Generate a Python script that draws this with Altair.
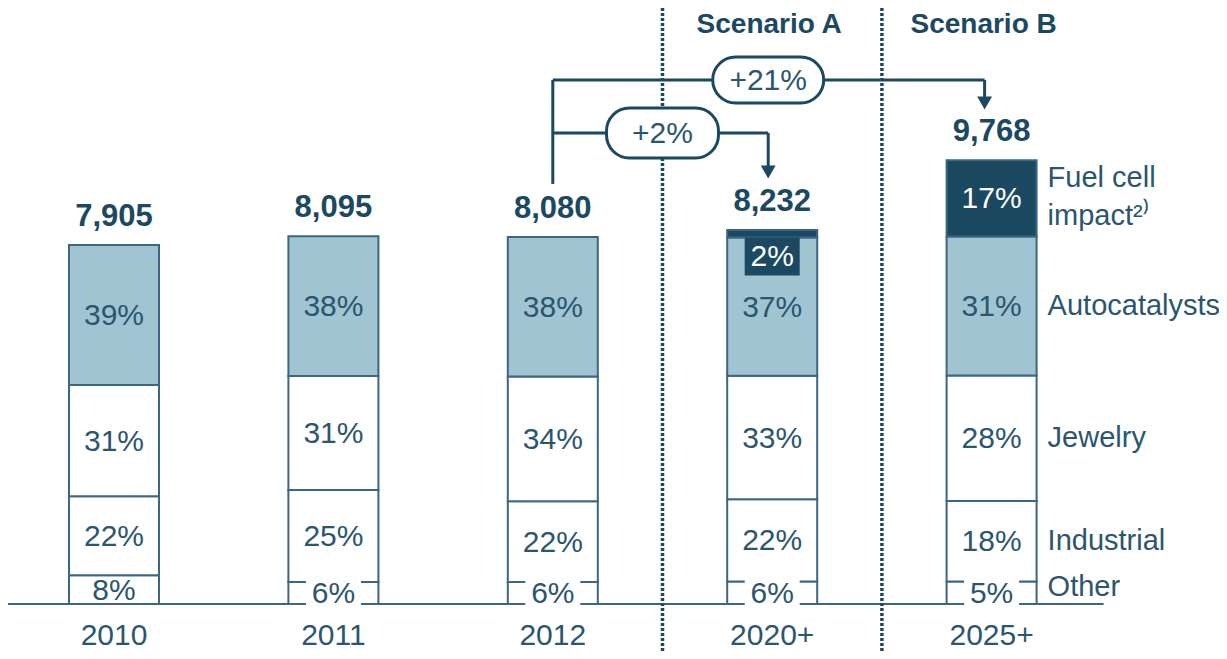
import altair as alt
import pandas as pd

# ---------------- data ----------------
categories = ["2010", "2011", "2012", "2020+", "2025+"]
totals = [7905, 8095, 8080, 8232, 9768]
total_labels = ["7,905", "8,095", "8,080", "8,232", "9,768"]
segments = ["Other", "Industrial", "Jewelry", "Autocatalysts", "Fuel cell"]
other = [8, 6, 6, 6, 5]
industrial = [22, 25, 22, 22, 18]
jewelry = [31, 31, 34, 33, 28]
autocatalysts = [39, 38, 38, 37, 31]
fuel_cell = [0, 0, 0, 2, 17]
right_labels = ["Other", "Industrial", "Jewelry", "Autocatalysts", ["Fuel cell", "impact\u00b2\u207e"]]
scenarios = ["Scenario A", "Scenario B"]
growth_labels = ["+2%", "+21%"]

# ---------------- styling ----------------
NAVY = "#1b4961"
LIGHT = "#a0c4d2"
OUTLINE = "#3c6681"
TEXT = "#2a5670"
FONT = "Liberation Sans"

W, H = 1211, 643
KY = 0.04543          # px per unit on the y scale
KX = 219.4            # px per category step
BASE_PX = 596         # baseline position in view
X0_PX = 106           # centre of first bar in view

def uy(px):
    return px / KY

def ux(px):
    return px / KX

y_dom = [-(H - BASE_PX) / KY, BASE_PX / KY]
x_dom = [-X0_PX / KX, (W - X0_PX) / KX]
xs = alt.Scale(domain=x_dom, nice=False, zero=False)
ys = alt.Scale(domain=y_dom, nice=False, zero=False)

HALF = ux(45)

# ---------------- segments ----------------
rows = []
series = [other, industrial, jewelry, autocatalysts, fuel_cell]
for i, cat in enumerate(categories):
    pcts = [s[i] for s in series]
    tot_pct = sum(pcts)
    cum = 0
    for seg, p in zip(segments, pcts):
        if p == 0:
            continue
        y0 = totals[i] * cum / tot_pct
        y1 = totals[i] * (cum + p) / tot_pct
        cum += p
        rows.append(dict(cat=cat, idx=i, seg=seg, pct=p, label=f"{p}%",
                         x=i - HALF, x2=i + HALF, y=y0, y2=y1, mid=(y0 + y1) / 2))
seg_df = pd.DataFrame(rows)

# label placement derived from the segments
lab_rows, cover_rows, box_rows = [], [], []
for r in rows:
    thin = (r["y2"] - r["y"]) * KY < 20
    if r["seg"] == "Fuel cell" and thin:
        box_rows.append(dict(x=r["idx"] - ux(27.5), x2=r["idx"] + ux(27.5),
                             y=r["y"], y2=r["y"] - uy(38)))
        lab_rows.append(dict(x=r["idx"], y=r["y"] - uy(19), label=r["label"], white=True))
    else:
        if r["seg"] == "Other" and r["pct"] < 7:
            cover_rows.append(dict(x=r["idx"] - ux(27.5), x2=r["idx"] + ux(27.5),
                                   y=r["mid"] - uy(14), y2=r["mid"] + uy(14)))
        lab_rows.append(dict(x=r["idx"], y=r["mid"], label=r["label"],
                             white=(r["seg"] == "Fuel cell")))
lab_df = pd.DataFrame(lab_rows)
cover_df = pd.DataFrame(cover_rows)
box_df = pd.DataFrame(box_rows)

tot_df = pd.DataFrame(dict(x=list(range(len(categories))), y=totals, label=total_labels))
cat_df = pd.DataFrame(dict(x=list(range(len(categories))), y=[-uy(32)] * len(categories),
                           label=categories))

# right-hand legend labels, aligned with the last bar's segments
last = [r for r in rows if r["idx"] == len(categories) - 1]
rl_rows = []
for r, lab in zip(last, right_labels):
    y = r["mid"]
    if r["seg"] == "Other":
        y += uy(6)
    if r["seg"] == "Fuel cell":
        y += uy(20)
    rl_rows.append(dict(x=len(categories) - 1 + ux(56), y=y, label=lab))
rl_df = pd.DataFrame(rl_rows)

# ---------------- annotations ----------------
i12, iA, iB = 2, 3, 4
yTop = uy(BASE_PX - 72)     # upper bracket level
yLow = uy(BASE_PX - 125)    # lower bracket level
xArrA = iA - ux(4)
xArrB = iB - ux(7)
rules_df = pd.DataFrame([
    dict(x=i12, x2=i12, y=yTop, y2=totals[i12] + uy(53)),
    dict(x=i12, x2=xArrB, y=yTop, y2=yTop),
    dict(x=xArrB, x2=xArrB, y=yTop, y2=yTop - uy(22)),
    dict(x=i12, x2=xArrA, y=yLow, y2=yLow),
    dict(x=xArrA, x2=xArrA, y=yLow, y2=yLow - uy(38)),
])
arrows_df = pd.DataFrame([
    dict(x=xArrB, y=yTop - uy(23)),
    dict(x=xArrA, y=yLow - uy(39)),
])
pill_df = pd.DataFrame([
    dict(x=2.5 - ux(56), x2=2.5 + ux(56), y=yLow - uy(25), y2=yLow + uy(25),
         cx=2.5, cy=yLow, label=growth_labels[0]),
    dict(x=iA - ux(4) - ux(55.5), x2=iA - ux(4) + ux(55.5), y=yTop - uy(23), y2=yTop + uy(23),
         cx=iA - ux(4), cy=yTop, label=growth_labels[1]),
])
dots_df = pd.DataFrame(dict(x=[2.5, 3.5], y=[y_dom[0]] * 2, y2=[y_dom[1]] * 2))
base_df = pd.DataFrame(dict(x=[x_dom[0]], x2=[4 + ux(112)], y=[0]))
scen_df = pd.DataFrame(dict(x=[iA - ux(3), iB - ux(8)], y=[uy(BASE_PX - 17)] * 2, label=scenarios))

# ---------------- layers ----------------
X = lambda f="x": alt.X(f"{f}:Q", scale=xs, axis=None)
Y = lambda f="y": alt.Y(f"{f}:Q", scale=ys, axis=None)

baseline = alt.Chart(base_df).mark_rule(color=OUTLINE, strokeWidth=2).encode(
    x=X(), x2="x2:Q", y=Y())

dotted = alt.Chart(dots_df).mark_rule(color=NAVY, strokeWidth=3.5, strokeDash=[3, 2]).encode(
    x=X(), y=Y(), y2="y2:Q")

bars = alt.Chart(seg_df).mark_rect(stroke=OUTLINE, strokeWidth=2).encode(
    x=X(), x2="x2:Q", y=Y(), y2="y2:Q",
    fill=alt.Fill("seg:N", scale=alt.Scale(domain=segments,
                                            range=["white", "white", "white", LIGHT, NAVY]),
                  legend=None))

covers = alt.Chart(cover_df).mark_rect(fill="white").encode(
    x=X(), x2="x2:Q", y=Y(), y2="y2:Q")

boxes = alt.Chart(box_df).mark_rect(fill=NAVY).encode(
    x=X(), x2="x2:Q", y=Y(), y2="y2:Q")

pct_text = alt.Chart(lab_df).mark_text(font=FONT, fontSize=30, baseline="middle", dy=1).encode(
    x=X(), y=Y(), text="label:N",
    color=alt.condition("datum.white", alt.value("white"), alt.value(TEXT)))

tot_text = alt.Chart(tot_df).mark_text(font=FONT, fontSize=31, fontWeight="bold",
                                       baseline="alphabetic", dy=-19, color=NAVY).encode(
    x=X(), y=Y(), text="label:N")

cat_text = alt.Chart(cat_df).mark_text(font=FONT, fontSize=30, baseline="middle", color=TEXT).encode(
    x=X(), y=Y(), text="label:N")

rl_text = alt.Chart(rl_df).mark_text(font=FONT, fontSize=29, baseline="middle", align="left",
                                     color=TEXT, lineHeight=38).encode(
    x=X(), y=Y(), text="label")

rules = alt.Chart(rules_df).mark_rule(color=NAVY, strokeWidth=3).encode(
    x=X(), x2="x2:Q", y=Y(), y2="y2:Q")

arrows = alt.Chart(arrows_df).mark_point(shape="triangle-down", filled=True, size=220,
                                         color=NAVY, opacity=1).encode(x=X(), y=Y())

pills = alt.Chart(pill_df).mark_rect(fill="white", stroke=NAVY, strokeWidth=3,
                                     cornerRadius=23).encode(
    x=X(), x2="x2:Q", y=Y(), y2="y2:Q")

pill_text = alt.Chart(pill_df).mark_text(font=FONT, fontSize=30, baseline="middle", dy=1,
                                         color=TEXT).encode(
    x=X("cx"), y=Y("cy"), text="label:N")

scen_text = alt.Chart(scen_df).mark_text(font=FONT, fontSize=28, fontWeight="bold",
                                         baseline="middle", color=NAVY).encode(
    x=X(), y=Y(), text="label:N")

chart = alt.layer(
    baseline, dotted, bars, covers, boxes, pct_text, tot_text, cat_text, rl_text,
    rules, arrows, pills, pill_text, scen_text
).properties(
    width=W, height=H, padding=0,
    autosize=alt.AutoSizeParams(type="none"),
).configure_view(stroke=None)

chart.save("out.html", embed_options={"renderer": "svg", "actions": False})
